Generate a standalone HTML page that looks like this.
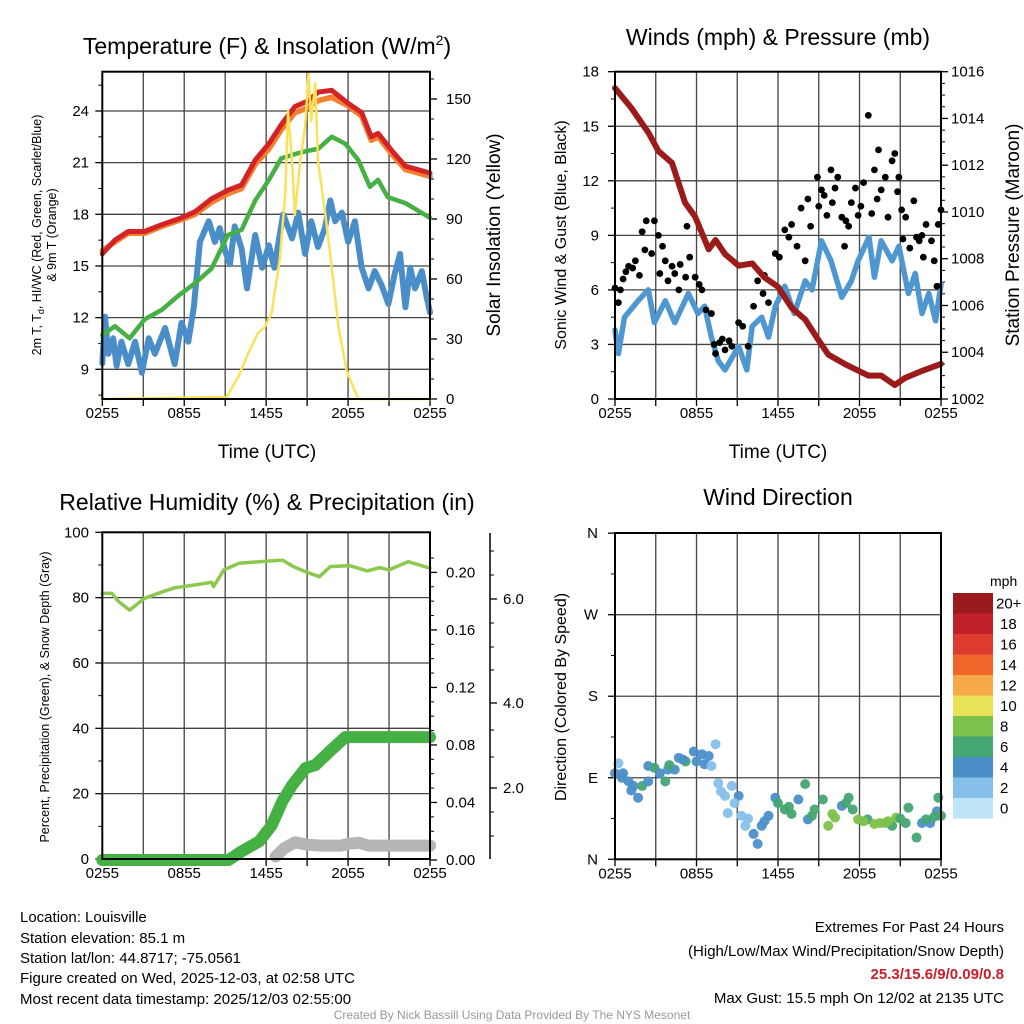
<!DOCTYPE html>
<html><head><meta charset="utf-8"><style>
html,body{margin:0;padding:0;background:#fff;}
svg{display:block;font-family:"Liberation Sans",sans-serif;}
</style></head><body>
<svg id="chart" width="1024" height="1024" viewBox="0 0 1024 1024" xmlns="http://www.w3.org/2000/svg">
<rect x="0" y="0" width="1024" height="1024" fill="#fff"/>
<text x="267" y="54" font-size="23" text-anchor="middle">Temperature (F) &amp; Insolation (W/m<tspan font-size="14" dy="-9">2</tspan><tspan dy="9">)</tspan></text>
<text x="778" y="45" font-size="23" text-anchor="middle">Winds (mph) &amp; Pressure (mb)</text>
<text x="267" y="510" font-size="23" text-anchor="middle">Relative Humidity (%) &amp; Precipitation (in)</text>
<text x="778" y="505" font-size="23" text-anchor="middle">Wind Direction</text>
<text transform="translate(41,235) rotate(-90)" font-size="12.5" text-anchor="middle">2m T, T<tspan font-size="9" dy="3">d</tspan><tspan dy="-3">, HI/WC (Red, Green, Scarlet/Blue)</tspan></text>
<text transform="translate(56,235) rotate(-90)" font-size="12.5" text-anchor="middle">&amp; 9m T (Orange)</text>
<text transform="translate(500,235) rotate(-90)" font-size="19" text-anchor="middle">Solar Insolation (Yellow)</text>
<text transform="translate(566,235) rotate(-90)" font-size="16" text-anchor="middle">Sonic Wind &amp; Gust (Blue, Black)</text>
<text transform="translate(1019,235) rotate(-90)" font-size="19" text-anchor="middle">Station Pressure (Maroon)</text>
<text transform="translate(49,697) rotate(-90)" font-size="12.5" text-anchor="middle">Percent, Precipitation (Green), &amp; Snow Depth (Gray)</text>
<text transform="translate(566,697) rotate(-90)" font-size="16" text-anchor="middle">Direction (Colored By Speed)</text>
<text x="267" y="458" font-size="19" text-anchor="middle">Time (UTC)</text>
<text x="778" y="458" font-size="19" text-anchor="middle">Time (UTC)</text>
<g font-size="15">
<text x="20" y="922">Location: Louisville</text>
<text x="20" y="943">Station elevation: 85.1 m</text>
<text x="20" y="963">Station lat/lon: 44.8717; -75.0561</text>
<text x="20" y="983">Figure created on Wed, 2025-12-03, at 02:58 UTC</text>
<text x="20" y="1004">Most recent data timestamp: 2025/12/03 02:55:00</text>
</g>
<g font-size="15" text-anchor="end">
<text x="1004" y="932">Extremes For Past 24 Hours</text>
<text x="1004" y="956">(High/Low/Max Wind/Precipitation/Snow Depth)</text>
<text x="1004" y="979" font-weight="bold" fill="#c8202a">25.3/15.6/9/0.09/0.8</text>
<text x="1004" y="1003">Max Gust: 15.5 mph On 12/02 at 2135 UTC</text>
</g>
<text x="512" y="1019" font-size="12" fill="#999" text-anchor="middle">Created By Nick Bassill Using Data Provided By The NYS Mesonet</text>
</svg>
<script>
// ---- data ----
const timeLabels = ["0255","0855","1455","2055","0255"];
const redT_h = [0,0.93,1.9,3.1,4.35,5.8,6.8,8.0,9.2,10.2,11.2,12.2,13.1,14.1,15.1,15.8,16.8,18.0,19.0,19.7,20.2,21.2,22.2,24];
const redT_v = [15.7,16.5,17.0,17.0,17.4,17.8,18.15,18.9,19.4,19.7,21.15,22.1,23.2,24.25,24.6,25.1,25.2,24.45,23.9,22.5,22.7,21.7,20.8,20.4];
const orgT_v = [15.9,16.4,16.9,16.9,17.3,17.7,18.0,18.7,19.2,19.5,20.9,21.8,22.9,23.9,24.2,24.6,24.8,24.3,23.7,22.3,22.5,21.5,20.6,20.2];
const grnTd_h = [0,0.93,2.0,3.1,4.35,5.6,6.8,8.0,9.2,10.2,11.2,12.2,13.1,14.1,15.1,15.8,16.8,17.8,18.75,19.6,20.2,20.9,22.2,24];
const grnTd_v = [11.0,11.5,10.8,11.9,12.45,13.3,14.0,14.85,16.8,17.1,18.8,20.0,21.25,21.5,21.7,21.8,22.5,22.1,21.15,19.6,20.0,19.0,18.65,17.8];
const bluWC_h = [0,0.2,0.44,0.8,1.05,1.4,1.9,2.4,2.9,3.4,3.85,4.6,5.3,5.8,6.3,6.7,7.15,7.8,8.25,8.6,9.0,9.35,9.7,10.2,10.6,11.2,11.7,12.2,12.6,13.25,13.9,14.35,14.85,15.3,15.8,16.3,16.7,17.05,17.55,18.0,18.5,19.0,19.5,19.95,20.45,20.95,21.4,21.8,22.2,22.55,22.9,23.4,23.75,24];
const bluWC_v = [9.35,12.05,9.9,10.8,9.2,10.6,9.3,10.6,8.8,10.8,9.9,11.4,9.3,11.7,10.6,12.6,16.4,17.6,16.4,17.2,15.85,15.1,17.3,16.0,13.7,16.8,14.9,16.2,14.9,18.0,16.6,18.1,15.7,17.6,16.1,17.2,18.8,17.6,18.1,16.4,17.6,14.9,13.7,14.7,13.9,12.8,14.5,15.7,12.6,14.9,13.7,14.7,13.2,12.3];
const sol_h = [0,9.1,9.95,10.7,11.4,11.9,12.4,13.0,13.4,13.6,13.9,14.1,14.5,14.85,15.1,15.3,15.6,15.8,16.3,16.8,17.3,17.9,18.75,24];
const sol_v = [0,1,11,23,33,36,43,70,103,144,119,92,119,136,163,139,158,119,94,66,36,14,0,0];
const tempTicks = [9,12,15,18,21,24];
const solTicks = [0,30,60,90,120,150];

const wind_h = [0,0.25,0.7,1.7,2.45,2.9,3.7,4.4,5.4,6.1,6.6,7.1,7.6,8.1,9.1,9.7,10.1,10.8,11.3,11.8,12.5,13.2,14,14.5,15.2,15.9,16.7,17.4,17.9,18.7,19.1,19.6,20.4,20.9,21.6,22.1,22.6,23.1,23.6,24];
const wind_v = [3.8,2.5,4.5,5.4,6.0,4.2,5.4,4.2,5.8,4.7,5.1,3.4,2.1,1.6,2.9,1.6,4.0,4.5,3.4,5.1,6.2,4.7,6.5,6.0,8.7,7.6,5.6,6.5,7.6,8.9,6.7,8.7,7.6,8.4,5.8,6.9,4.7,5.8,4.3,6.3];
const gust_h = [0,0.25,0.4,0.6,1.0,1.5,2.0,2.2,2.3,2.7,2.9,3.2,3.3,3.7,3.9,4.2,4.4,4.7,5.2,5.3,5.5,5.9,6.4,6.7,7.1,7.4,7.7,8.1,8.6,9.1,9.4,9.8,10.2,10.5,10.9,11.3,11.8,12.1,12.5,13.0,13.4,13.7,14,14.4,14.9,15.0,15.2,15.6,15.9,16.2,16.4,16.7,16.9,17.2,17.4,17.7,17.9,18.3,18.65,18.9,19.1,19.4,19.6,19.9,20.1,20.4,20.6,20.9,21.1,21.4,21.7,22.0,22.2,22.4,22.7,22.9,23.3,23.5,23.7,23.8,24,0.8,1.3,1.8,3.5,4.8,6.2,7.3,7.9,8.4,11.0,12.8,14.2,15.4,16.0,17.0,18.1,19.3,20.8,21.2,22.6,23.1];
const gust_v = [6.1,5.3,6.0,6.6,7.3,7.6,9.2,8.2,9.8,8.0,9.8,9.0,6.9,7.6,6.5,7.3,6.9,6.0,6.7,9.5,7.8,6.7,6.0,4.9,4.7,2.5,3.1,2.7,2.9,4.2,4.0,2.9,5.1,6.5,5.8,5.3,8.0,7.8,9.3,9.6,8.4,10.5,7.6,9.5,12.2,10.6,11.5,10.1,12.6,11.6,12.2,10.0,8.4,9.5,10.8,11.6,10.1,11.9,15.6,10.2,12.6,13.7,11.5,12.2,10.0,13.1,13.5,12.2,10.4,10.0,8.3,10.9,8.9,8.7,7.8,9.6,8.7,7.6,6.2,9.6,10.4,7.0,7.2,6.8,8.4,7.4,6.3,3.0,3.3,3.2,6.8,8.9,11.0,11.2,10.8,9.8,10.6,11.0,11.4,8.8,9.0];
const pres_h = [0,1.2,2.45,3.2,4.2,5.15,5.9,6.9,7.4,8.1,9.1,10.1,11,12,13,14,15,15.7,16.9,18.65,19.6,20.6,21.35,22.6,24];
const pres_v = [1015.3,1014.45,1013.4,1012.6,1012.1,1010.4,1009.8,1008.4,1008.8,1008.2,1007.7,1007.8,1007.2,1006.8,1005.9,1005.4,1004.5,1003.9,1003.5,1003.0,1003.0,1002.6,1002.9,1003.2,1003.5];
const windTicks = [0,3,6,9,12,15,18];
const presTicks = [1002,1004,1006,1008,1010,1012,1014,1016];

const rh_h = [0,0.7,1.2,2.0,3.1,4.4,5.3,6.8,8.0,8.15,8.9,10.0,12.2,13.2,14.0,14.9,15.9,16.7,18.1,19.4,20.3,21.0,22.4,24];
const rh_v = [81.3,81.3,78.8,76.2,79.8,81.8,83.0,83.9,84.7,83.4,88.5,90.5,91.2,91.5,89.5,87.9,86.4,89.5,89.8,88.2,89.2,88.5,91.0,89.0];
const pcp_h = [0,9.25,10.2,11.5,12.4,13.2,13.9,14.9,15.6,16.6,17.8,24];
const pcp_v = [0,0,0.006,0.013,0.024,0.041,0.052,0.064,0.066,0.075,0.0855,0.0855];
const snow_h = [12.7,13.3,14.1,15,16,17.5,18,18.8,19.5,24];
const snow_v = [0.55,0.72,0.85,0.8,0.78,0.78,0.82,0.84,0.78,0.78];
const rhTicks = [0,20,40,60,80,100];
const pcpTicks = [0,0.04,0.08,0.12,0.16,0.20];
const pcpLabels = ["0.00","0.04","0.08","0.12","0.16","0.20"];
const snowLabelPos = [[2.0,788],[4.0,703],[6.0,599]];

const dir_h = [0,0.25,0.6,1.0,1.35,1.7,2.0,2.45,2.45,2.9,3.7,3.9,4.4,4.7,5.2,5.8,6.4,6.6,7.1,7.4,7.6,8.1,8.6,9.1,8.3,9.3,9.6,10.2,10.5,10.8,11.3,11.8,12.0,12.5,13.0,13.5,14.0,14.2,14.7,15.3,15.7,16.2,16.7,17.2,17.5,17.9,18.6,19.1,19.9,20.4,20.7,21.4,21.6,22.2,22.6,23.2,23.7,23.8,24,0.5,1.2,3.3,4.0,5.0,6.0,6.9,7.8,8.8,9.8,11.0,12.8,14.5,16.0,17.0,18.3,19.5,20.1,21.0,22.9,23.5];
const dir_v = [95,106,95,86,81,68,81,86,103,101,86,99,99,112,108,119,116,105,103,127,84,70,81,70,51,48,37,28,17,37,48,68,62,55,50,66,83,44,55,66,37,46,59,68,55,44,44,39,40,37,46,40,57,24,40,40,53,68,48,90,76,95,104,110,108,114,75,62,45,42,58,48,50,62,42,40,42,45,44,47];
const dir_s = [5,3,5,5,5,5,7,5,5,7,7,5,5,5,7,5,5,5,3,3,3,3,3,5,3,3,3,5,5,5,5,5,7,7,7,5,7,5,7,7,9,9,5,7,7,9,7,9,9,7,9,7,7,7,5,5,5,7,7,5,5,5,7,5,5,5,3,3,3,5,7,7,9,7,9,9,9,7,7,7];
const spdBins = ["20+","18","16","14","12","10","8","6","4","2","0"];
const spdColors = ["#9b1a1e","#c0202a","#de3a2f","#f0662a","#f7a94a","#e8e15a","#7dc24b","#45a772","#4b8fc9","#86c0ea","#bfe6f8"];
const dirTicks = [[0,"N"],[90,"E"],[180,"S"],[270,"W"],[360,"N"]];

// ---- scales ----
const P1 = {x0:102.3,x1:430,y0:71.7,y1:399};
const P2 = {x0:615,x1:941,y0:71.7,y1:399};
const P3 = {x0:102.3,x1:430,y0:532.3,y1:859};
const P4 = {x0:615,x1:941,y0:533,y1:859.3};
const xL = h => P1.x0 + h*(P1.x1-P1.x0)/24;
const xR = h => P2.x0 + h*(P2.x1-P2.x0)/24;
const yT = v => 111 + (24-v)*17.22;
const yS = v => 399 - v*2;
const yW = v => 399 - v*(327.3/18);
const yP = v => 399 - (v-1002)*(327.3/14);
const yRH = v => 859 - v*3.267;
const yPc = v => 860 - v*1438;
const ySn = v => 882.5 - v*47.25;
const yD = d => 859.3 - d*0.906;

const svg = document.getElementById('chart');
const NS = 'http://www.w3.org/2000/svg';
function mk(tag, attrs){ const e=document.createElementNS(NS,tag); for(const k in attrs) e.setAttribute(k,attrs[k]); svg.appendChild(e); return e; }
function path(hs, vs, fx, fy, color, w){
  let d=''; const n=Math.min(hs.length,vs.length);
  for(let i=0;i<n;i++){ d+=(i?'L':'M')+fx(hs[i]).toFixed(1)+','+fy(vs[i]).toFixed(1); }
  return mk('path',{d:d,fill:'none',stroke:color,'stroke-width':w,'stroke-linejoin':'round','stroke-linecap':'round'});
}
function txt(x,y,s,size,anchor){ const t=mk('text',{x:x,y:y,'font-size':size,'text-anchor':anchor}); t.textContent=s; return t; }

function frameAndGrid(P, fx, hTicksY, name){
  for(let h=0;h<=24;h+=3){
    const x=fx(h);
    const g=mk('line',{x1:x,y1:P.y0,x2:x,y2:P.y1,stroke:'#444','stroke-width':1.3});
    
    
    const t=mk('line',{x1:x,y1:P.y1,x2:x,y2:P.y1+7,stroke:'#000','stroke-width':1.3});
    
    
  }
  hTicksY.forEach(y=>{
    const g=mk('line',{x1:P.x0,y1:y,x2:P.x1,y2:y,stroke:'#444','stroke-width':1.3});
    
    
  });
  for(let i=0;i<5;i++){
    const t=txt(fx(i*6), P.y1+19, timeLabels[i], 15, 'middle');
    
    
  }
}
function frame(P,name){
  const r=mk('rect',{x:P.x0,y:P.y0,width:P.x1-P.x0,height:P.y1-P.y0,fill:'none',stroke:'#000','stroke-width':2});
  
  
}
function yTicks(x, ys, labels, side, lx, anchor, name, size){
  ys.forEach((y,i)=>{
    const t=mk('line',{x1:x,y1:y,x2:x+side*7,y2:y,stroke:'#000','stroke-width':1.3});
    
    
    const l=txt(lx, y+5, labels[i], size||15, anchor);
    
    
  });
}
function minor(x, ys, side, name){
  ys.forEach(y=>{
    const t=mk('line',{x1:x,y1:y,x2:x+side*4,y2:y,stroke:'#000','stroke-width':1});
    
    
  });
}

// ---- panel 1 ----
frameAndGrid(P1, xL, tempTicks.map(yT), 'temperature');
yTicks(P1.x0, tempTicks.map(yT), tempTicks.map(String), -1, 89, 'end', 'temperature-y');
minor(P1.x0, [7.5,10.5,13.5,16.5,19.5,22.5,25.5].map(yT), -1, 'temperature-y');
yTicks(P1.x1, solTicks.map(yS), solTicks.map(String), 1, 446, 'start', 'insolation-y');
minor(P1.x1, [10,20,40,50,70,80,100,110,130,140,160].map(yS), 1, 'insolation-y');
let e;
e=path(bluWC_h, bluWC_v, xL, yT, '#4a8ec9', 6);


e=path(grnTd_h, grnTd_v, xL, yT, '#45b043', 4.5);


e=path(redT_h, orgT_v, xL, yT, '#f47f30', 5.5);


e=path(redT_h, redT_v, xL, yT, '#d42325', 5);


e=path(sol_h, sol_v, xL, yS, '#fbe15a', 2.5);


frame(P1,'temperature');

// ---- panel 2 ----
frameAndGrid(P2, xR, windTicks.map(yW), 'winds');
yTicks(P2.x0, windTicks.map(yW), windTicks.map(String), -1, 599, 'end', 'wind-y');
minor(P2.x0, [1.5,4.5,7.5,10.5,13.5,16.5].map(yW), -1, 'wind-y');
yTicks(P2.x1, presTicks.map(yP), presTicks.map(String), 1, 951, 'start', 'pressure-y');
minor(P2.x1, [1002.5,1003,1003.5,1004.5,1005,1005.5,1006.5,1007,1007.5,1008.5,1009,1009.5,1010.5,1011,1011.5,1012.5,1013,1013.5,1014.5,1015,1015.5].map(yP), 1, 'pressure-y');
e=path(wind_h, wind_v, xR, yW, '#4e97d1', 5.5);


const nG = Math.min(gust_h.length, gust_v.length);
for(let i=0;i<nG;i++){
  const c=mk('circle',{cx:xR(gust_h[i]),cy:yW(gust_v[i]),r:3.4,fill:'#000'});
  
  
}
e=path(pres_h, pres_v, xR, yP, '#9b1b1b', 6);


frame(P2,'winds');

// ---- panel 3 ----
frameAndGrid(P3, xL, rhTicks.map(yRH), 'humidity');
yTicks(P3.x0, rhTicks.map(yRH), rhTicks.map(String), -1, 89, 'end', 'humidity-y');
minor(P3.x0, [10,30,50,70,90].map(yRH), -1, 'humidity-y');
yTicks(P3.x1, pcpTicks.map(yPc), pcpLabels, 1, 446, 'start', 'precip-y');
minor(P3.x1, [0.01,0.02,0.03,0.05,0.06,0.07,0.09,0.10,0.11,0.13,0.14,0.15,0.17,0.18,0.19,0.21].map(yPc), 1, 'precip-y');
e=mk('line',{x1:490,y1:533,x2:490,y2:859,stroke:'#000','stroke-width':1.5});


snowLabelPos.forEach(p=>{
  const t=mk('line',{x1:490,y1:p[1],x2:497,y2:p[1],stroke:'#000','stroke-width':1.3});
  
  
  const l=txt(503, p[1]+5, p[0].toFixed(1), 15, 'start');
  
  
});
minor(490, [551,575,623,647,670,730,757,812,836], 1, 'snow-depth');
e=path(rh_h, rh_v, xL, yRH, '#8dc84e', 3.5);


e=path(snow_h, snow_v, xL, ySn, '#b5b5b5', 12);


e=path(pcp_h, pcp_v, xL, yPc, '#45b043', 12);


frame(P3,'humidity');

// ---- panel 4 ----
frameAndGrid(P4, xR, [90,180,270].map(yD), 'direction');
dirTicks.forEach(d=>{
  const y=yD(d[0]);
  const t=mk('line',{x1:P4.x0,y1:y,x2:P4.x0-7,y2:y,stroke:'#000','stroke-width':1.3});
  
  
  const l=txt(598, y+5, d[1], 15, 'end');
  
  
});
minor(P4.x0, [45,135,225,315].map(yD), -1, 'direction-y');
function colorFor(s){ if(s>=20) return spdColors[0]; const idx=10-Math.floor(s/2); return spdColors[Math.max(1,Math.min(10,idx))]; }
const nD = Math.min(dir_h.length, dir_v.length, dir_s.length);
for(let i=0;i<nD;i++){
  const c=mk('circle',{cx:xR(dir_h[i]),cy:yD(dir_v[i]),r:5,fill:colorFor(dir_s[i]),'fill-opacity':0.95});
  
  
}
frame(P4,'direction');

// ---- colorbar ----
e=txt(990, 586, 'mph', 14, 'start');


spdBins.forEach((lab,i)=>{
  const r=mk('rect',{x:953,y:593+i*20.5,width:40,height:20.5,fill:spdColors[i]});
  
  
  const t=txt(lab.length>2?996:1000, 593+i*20.5+15.5, lab, 15, 'start');
  
  
});
</script>
</body></html>
